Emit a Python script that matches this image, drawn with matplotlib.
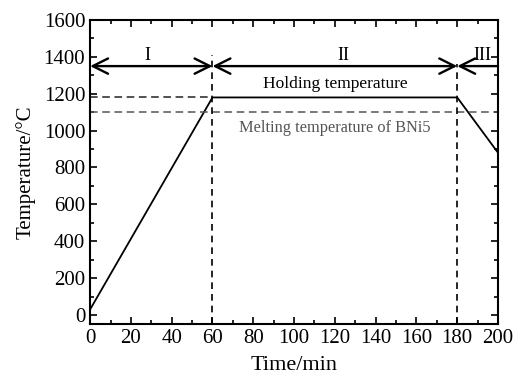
import matplotlib
matplotlib.use("Agg")
import matplotlib.pyplot as plt
from matplotlib.ticker import MultipleLocator

plt.rcParams['font.family'] = ['Liberation Serif', 'DejaVu Serif']

time = [0, 60, 180, 200]
temp = [30, 1180, 1180, 880]
holding_temp = 1180
melting_temp = 1100
stage_bounds = [0, 60, 180, 200]
stage_labels = ['I', 'II', 'III']
stage_label_x = [28, 124, 192.5]
arrow_y = 1350

fig = plt.figure(figsize=(5.27, 3.85), dpi=100)
ax = fig.add_axes([0.171, 0.158, 0.774, 0.79])

ax.plot(time, temp, color='black', lw=1.3)
ax.plot([0, 60], [holding_temp, holding_temp], color='#222222', lw=1.1, ls=(0, (5, 3)))
ax.axhline(melting_temp, color='#555555', lw=1.1, ls=(0, (5, 3)))
ax.plot([60, 60], [-50, 1410], color='black', lw=1.2, ls=(0, (4, 3)))
ax.plot([180, 180], [-50, 1360], color='black', lw=1.2, ls=(0, (4, 3)))

head = ',head_length=1.1,head_width=0.55'
kw = dict(color='black', lw=1.7, shrinkA=0, shrinkB=0)
ax.annotate('', xy=(stage_bounds[0], arrow_y), xytext=(stage_bounds[1], arrow_y),
            arrowprops=dict(arrowstyle='<->' + head, **kw))
ax.annotate('', xy=(stage_bounds[1], arrow_y), xytext=(stage_bounds[2], arrow_y),
            arrowprops=dict(arrowstyle='<->' + head, **kw))
ax.annotate('', xy=(stage_bounds[2], arrow_y), xytext=(stage_bounds[3], arrow_y),
            arrowprops=dict(arrowstyle='->' + head, **kw))

for c, lab in zip(stage_label_x, stage_labels):
    ax.text(c, 1405, lab, ha='center', va='center', fontsize=13)

ax.text(120, holding_temp + 30, 'Holding temperature', ha='center', va='bottom', fontsize=12.5)
ax.text(120, melting_temp - 45, 'Melting temperature of BNi5', ha='center', va='top', fontsize=11.8,
        color='#555555')

ax.set_xlim(0, 200)
ax.set_ylim(-50, 1600)
ax.xaxis.set_major_locator(MultipleLocator(20))
ax.xaxis.set_minor_locator(MultipleLocator(10))
ax.yaxis.set_major_locator(MultipleLocator(200))
ax.yaxis.set_minor_locator(MultipleLocator(100))
ax.tick_params(which='both', direction='in', top=True, right=True, labelsize=15, width=1.2)
ax.tick_params(which='major', length=5)
ax.tick_params(which='minor', length=3)
for s in ax.spines.values():
    s.set_linewidth(1.5)

ax.set_xlabel('Time/min', fontsize=16, labelpad=6)
ax.set_ylabel('Temperature/\u00b0C', fontsize=15, labelpad=6)

fig.savefig('out.png', dpi=100)
